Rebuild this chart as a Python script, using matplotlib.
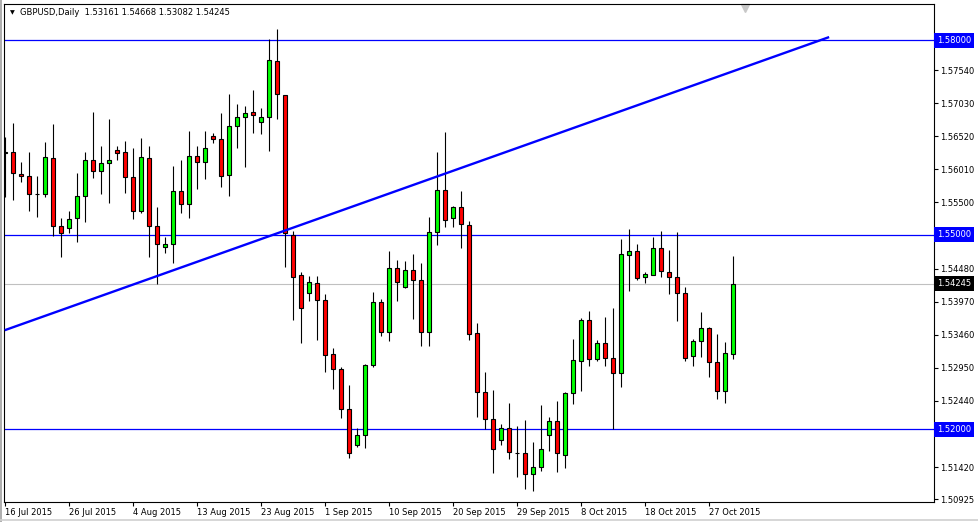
import numpy as np
import matplotlib
matplotlib.use('Agg')
import matplotlib.pyplot as plt
import matplotlib.transforms as mtransforms

# GBPUSD daily candles (bar 0 = 16 Jul 2015)
opens = [1.56258, 1.56284, 1.55934, 1.55903, 1.55636, 1.55631, 1.56181, 1.55132, 1.55101, 1.55256,
         1.55595, 1.56150, 1.55980, 1.56104, 1.56304, 1.56273, 1.55888, 1.55369, 1.56181, 1.55132,
         1.54809, 1.54855, 1.55672, 1.55472, 1.56212, 1.56119, 1.56520, 1.56474, 1.55919, 1.56674,
         1.56813, 1.56890, 1.56736, 1.56813, 1.57677, 1.57152, 1.54994, 1.54377, 1.54099, 1.54253,
         1.53991, 1.53159, 1.52938, 1.52310, 1.51755, 1.51910, 1.52989, 1.53971, 1.53508, 1.54485,
         1.54202, 1.54454, 1.54300, 1.53508, 1.55040, 1.55687, 1.55256, 1.55425, 1.55148, 1.53482,
         1.52573, 1.52156, 1.51832, 1.52017, 1.51642, 1.51632, 1.51308, 1.51416, 1.51910, 1.52125,
         1.51611, 1.52557, 1.53051, 1.53683, 1.53081, 1.53328, 1.53097, 1.52866, 1.54685, 1.54747,
         1.54346, 1.54387, 1.54793, 1.54423, 1.54346, 1.54099, 1.53128, 1.53359, 1.53559, 1.53035,
         1.52588, 1.53161]
highs = [1.56515, 1.56721, 1.56119, 1.56273, 1.55908, 1.56428, 1.56705, 1.55256, 1.55369, 1.55950,
         1.56273, 1.56895, 1.56371, 1.56787, 1.56371, 1.56448, 1.56345, 1.56494, 1.56371, 1.55425,
         1.54963, 1.56063, 1.56155, 1.56602, 1.56371, 1.56602, 1.56566, 1.56880, 1.57173, 1.57019,
         1.56988, 1.57235, 1.56957, 1.58016, 1.58175, 1.57152, 1.55055, 1.54423, 1.54361, 1.54361,
         1.54084, 1.53251, 1.52968, 1.52686, 1.52017, 1.53015, 1.54125, 1.54007, 1.54752, 1.54613,
         1.54598, 1.54701, 1.54562, 1.55276, 1.56279, 1.56587, 1.55441, 1.55677, 1.55209, 1.53637,
         1.52886, 1.52609, 1.52079, 1.52403, 1.52053, 1.52146, 1.51807, 1.52377, 1.52192, 1.52439,
         1.52583, 1.53395, 1.53714, 1.53827, 1.53380, 1.53734, 1.53873, 1.54937, 1.55091, 1.54860,
         1.54423, 1.54968, 1.55060, 1.54767, 1.55045, 1.54202, 1.53395, 1.53806, 1.53585, 1.53472,
         1.53349, 1.54668]
lows = [1.55590, 1.55538, 1.55821, 1.55374, 1.55281, 1.55580, 1.54988, 1.54665, 1.55024, 1.54896,
        1.55204, 1.55872, 1.55626, 1.55487, 1.56155, 1.55651, 1.55251, 1.55343, 1.54665, 1.54238,
        1.54716, 1.54572, 1.55333, 1.55266, 1.55713, 1.55867, 1.56412, 1.55744, 1.55605, 1.56345,
        1.56052, 1.56577, 1.56561, 1.56299, 1.56787, 1.54510, 1.53688, 1.53339, 1.53986, 1.53380,
        1.52891, 1.52629, 1.52182, 1.51565, 1.51725, 1.51709, 1.52968, 1.53446, 1.53369, 1.53986,
        1.54187, 1.53709, 1.53292, 1.53292, 1.54850, 1.55127, 1.55127, 1.54803, 1.53385, 1.52197,
        1.52002, 1.51334, 1.51755, 1.51550, 1.51272, 1.51077, 1.51056, 1.51365, 1.51663, 1.51349,
        1.51401, 1.52398, 1.52598, 1.52984, 1.53051, 1.52984, 1.52002, 1.52660, 1.54140, 1.54300,
        1.54253, 1.54377, 1.54346, 1.54094, 1.53678, 1.53051, 1.52984, 1.53123, 1.52814, 1.52475,
        1.52413, 1.53082]
closes = [1.56284, 1.55950, 1.55908, 1.55631, 1.55636, 1.56196, 1.55132, 1.55024, 1.55251, 1.55595,
          1.56150, 1.55986, 1.56104, 1.56150, 1.56258, 1.55888, 1.55364, 1.56196, 1.55132, 1.54855,
          1.54855, 1.55672, 1.55472, 1.56212, 1.56119, 1.56335, 1.56474, 1.55903, 1.56674, 1.56813,
          1.56875, 1.56844, 1.56813, 1.57692, 1.57168, 1.55024, 1.54356, 1.53868, 1.54269, 1.53991,
          1.53153, 1.52938, 1.52310, 1.51632, 1.51910, 1.52989, 1.53971, 1.53508, 1.54485, 1.54269,
          1.54454, 1.54300, 1.53498, 1.55040, 1.55687, 1.55225, 1.55425, 1.55163, 1.53477, 1.52573,
          1.52156, 1.51694, 1.52017, 1.51647, 1.51642, 1.51308, 1.51416, 1.51694, 1.52125, 1.51632,
          1.52557, 1.53066, 1.53683, 1.53081, 1.53328, 1.53097, 1.52866, 1.54701, 1.54747, 1.54330,
          1.54392, 1.54793, 1.54438, 1.54346, 1.54099, 1.53097, 1.53359, 1.53559, 1.53035, 1.52588,
          1.53174, 1.54245]

date_labels = ['16 Jul 2015', '26 Jul 2015', '4 Aug 2015', '13 Aug 2015', '23 Aug 2015',
               '1 Sep 2015', '10 Sep 2015', '20 Sep 2015', '29 Sep 2015', '8 Oct 2015',
               '18 Oct 2015', '27 Oct 2015']
levels = [1.58, 1.55, 1.52]
bid = 1.54245
trend_bars = [0, 103]
trend_prices = [1.5353, 1.5805]
price_ticks = [1.58050, 1.57540, 1.57030, 1.56520, 1.56010, 1.55500, 1.54990, 1.54480,
               1.53970, 1.53460, 1.52950, 1.52440, 1.51930, 1.51420, 1.50925]
# these three sit under the level boxes in the screenshot
hidden_ticks = [1.58050, 1.54990, 1.51930]
header = 'GBPUSD,Daily  1.53161 1.54668 1.53082 1.54245'

o = np.array(opens)
h = np.array(highs)
l = np.array(lows)
c = np.array(closes)
x = np.arange(len(o))

fig = plt.figure(figsize=(9.79, 5.22), dpi=100)
fig.patch.set_facecolor('white')
ax = fig.add_axes([4/979, 20/522, 930/979, 498/522])

# wicks then bodies
ax.vlines(x, l, h, color='black', lw=0.8, zorder=2)
cols = np.where(c > o, '#00ff00', np.where(c < o, '#ff0000', 'black'))
ax.bar(x, np.abs(c - o), bottom=np.minimum(o, c), width=0.55, color=cols,
       edgecolor='black', linewidth=0.8, zorder=3)

for lv in levels:
    ax.axhline(lv, color='#0000ff', lw=0.9, zorder=1)
ax.axhline(bid, color='#c0c0c0', lw=0.8, zorder=1)
ax.plot(trend_bars, trend_prices, color='#0000ff', lw=1.7, zorder=4, solid_capstyle='butt')

ax.set_xlim(-0.09, 116.1)
ax.set_ylim(1.50881, 1.58560)

ax.yaxis.tick_right()
ax.set_yticks(price_ticks, labels=['' if p in hidden_ticks else f'{p:.5f}' for p in price_ticks])
ax.tick_params(axis='y', length=3, width=0.8, pad=1.5, labelsize=6, colors='black')
ax.set_xticks(x[::8][:len(date_labels)], labels=date_labels)
ax.tick_params(axis='x', length=3, width=0.8, pad=1.5, labelsize=6)
for t in ax.get_xticklabels():
    t.set_ha('left')
for s in ax.spines.values():
    s.set_linewidth(0.8)
    s.set_color('black')

tr = mtransforms.blended_transform_factory(ax.transAxes, ax.transData)
for lv in levels:
    ax.text(1.0035, lv, f'{lv:.5f}', transform=tr, color='white', fontsize=6,
            va='center', ha='left', clip_on=False, zorder=10,
            bbox=dict(boxstyle='square,pad=0.35', fc='#0000ff', ec='none'))
ax.text(1.0035, bid, f'{bid:.5f}', transform=tr, color='white', fontsize=6,
        va='center', ha='left', clip_on=False, zorder=10,
        bbox=dict(boxstyle='square,pad=0.35', fc='black', ec='none'))

ax.text(0.0086, 0.982, '\u25bc', transform=ax.transAxes, fontsize=4.5, va='center', ha='center')
ax.text(0.0172, 0.982, header, transform=ax.transAxes, fontsize=6, va='center', ha='left')
ax.plot([0.797], [0.992], transform=ax.transAxes, marker='v', color='#c8c8c8',
        markersize=6, clip_on=False)

fig.add_artist(plt.Line2D([0.0012, 0.0012], [0, 1], color='#a0a0a0', lw=1.2, transform=fig.transFigure))
fig.add_artist(plt.Line2D([0, 1], [0.004, 0.004], color='#d0d0d0', lw=1.2, transform=fig.transFigure))

fig.savefig('out.png', dpi=100)
